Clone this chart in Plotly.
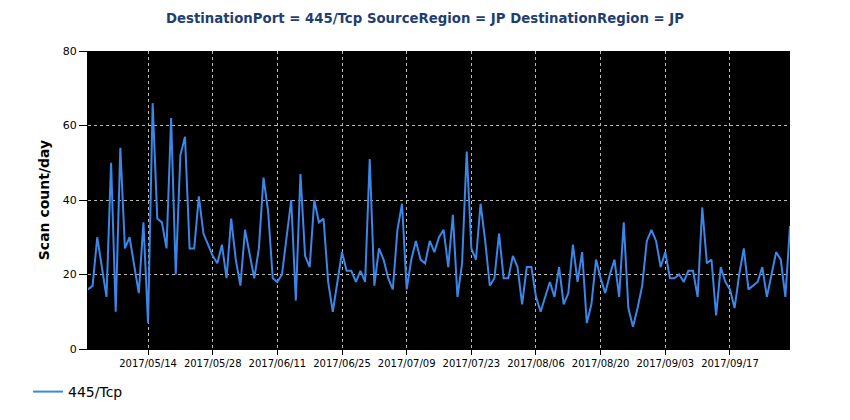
import pandas as pd
import plotly.graph_objects as go

start_date = "2017-05-01"
scan_counts = [
    16, 17, 30, 22, 14, 50, 10, 54, 27, 30, 22, 15, 34, 7, 66, 35, 34, 27, 62, 20,
    52, 57, 27, 27, 41, 31, 28, 25, 23, 28, 19, 35, 24, 17, 32, 26, 19, 27, 46, 37,
    19, 18, 20, 30, 40, 13, 47, 25, 22, 40, 34, 35, 18, 10, 18, 26, 21, 21, 18, 21,
    18, 51, 17, 27, 24, 19, 16, 32, 39, 16, 24, 29, 24, 23, 29, 26, 30, 32, 22, 36,
    14, 23, 53, 27, 24, 39, 29, 17, 19, 31, 19, 19, 25, 22, 12, 22, 22, 14, 10, 14,
    18, 14, 22, 12, 15, 28, 18, 26, 7, 12, 24, 19, 15, 20, 24, 14, 34, 11, 6, 11,
    17, 29, 32, 29, 22, 26, 19, 19, 20, 18, 21, 21, 14, 38, 23, 24, 9, 22, 18, 16,
    11, 20, 27, 16, 17, 18, 22, 14, 20, 26, 24, 14, 33,
]
dates = pd.date_range(start_date, periods=len(scan_counts), freq="D")
series_name = "445/Tcp"
title_text = "DestinationPort = 445/Tcp SourceRegion = JP DestinationRegion = JP"
y_title = "Scan count/day"

fig = go.Figure()
fig.add_trace(go.Scatter(
    x=dates, y=scan_counts, mode="lines", name=series_name,
    line=dict(color="#3b86e6", width=2),
))

font_family = "DejaVu Sans"
fig.update_layout(
    width=850, height=420,
    margin=dict(l=88, r=60, t=51, b=71, autoexpand=False),
    paper_bgcolor="white",
    plot_bgcolor="black",
    font=dict(family=font_family, size=10, color="black"),
    title=dict(text="<b>" + title_text + "</b>", x=0.5, xanchor="center",
               y=1 - 18 / 420, yanchor="middle", yref="container",
               font=dict(family=font_family, size=13.3, color="#1f3f72")),
    showlegend=True,
    legend=dict(orientation="h", xref="container", yref="container",
                x=0.033, xanchor="left", y=1 - 392 / 420, yanchor="middle",
                font=dict(family=font_family, size=14, color="black"),
                bgcolor="rgba(0,0,0,0)"),
)
fig.update_xaxes(
    type="date",
    range=[dates[0], dates[-1]],
    tick0="2017-05-14", dtick=14 * 86400000,
    tickformat="%Y/%m/%d", tickangle=0,
    automargin=False,
    showgrid=True, gridcolor="#b8b8b8", griddash="dot", gridwidth=1,
    ticks="outside", ticklen=5, tickcolor="black",
    showline=True, linecolor="black", linewidth=1,
    zeroline=False,
    tickfont=dict(size=10, color="black"),
)
fig.update_yaxes(
    range=[0, 80], dtick=20,
    automargin=False,
    showgrid=True, gridcolor="#b8b8b8", griddash="dot", gridwidth=1,
    ticks="outside", ticklen=8, tickcolor="black",
    showline=True, linecolor="black", linewidth=1,
    zeroline=False,
    title=dict(text="<b>" + y_title + "</b>", standoff=9,
               font=dict(family=font_family, size=14, color="black")),
    tickfont=dict(size=11, color="black"),
)

fig.write_html("out.html", config={"displayModeBar": False})

# remove the browser's default page margin so the figure sits at the top-left corner
with open("out.html", "r", encoding="utf-8") as f:
    html = f.read()
html = html.replace("<body>", '<body style="margin:0;padding:0;">', 1)
with open("out.html", "w", encoding="utf-8") as f:
    f.write(html)
